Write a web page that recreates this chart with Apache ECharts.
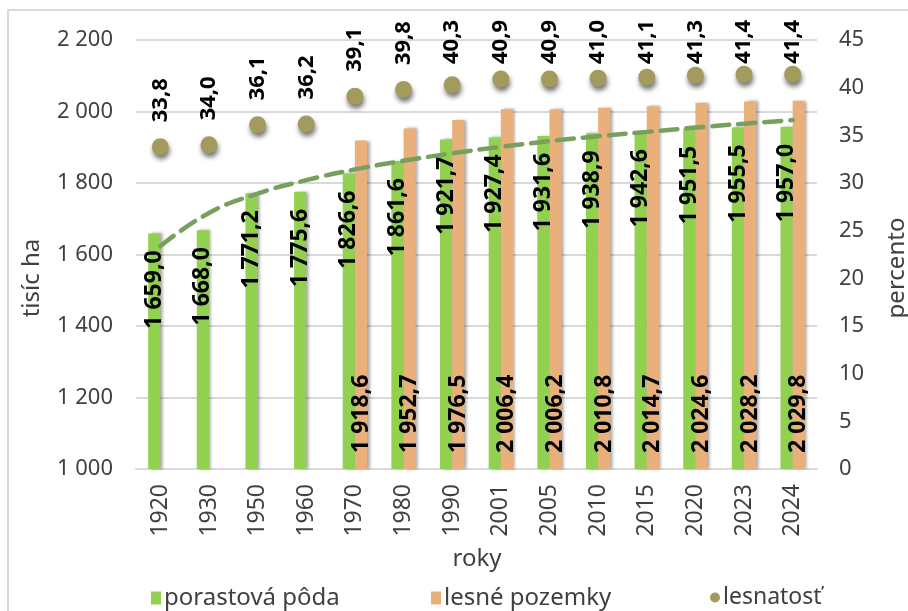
<!DOCTYPE html>
<html>
<head>
<meta charset="utf-8">
<script src="https://cdn.jsdelivr.net/npm/echarts@6/dist/echarts.min.js"></script>
<style>
  html, body { margin: 0; padding: 0; background: #fff; }
  #chart { width: 908px; height: 611px; }
</style>
</head>
<body>
<div id="chart"></div>
<script>
// Roky sledovania
const years = ['1920', '1930', '1950', '1960', '1970', '1980', '1990', '2001', '2005', '2010', '2015', '2020', '2023', '2024'];

// Porastová pôda (tis. ha)
const porastovaPoda = [1659.0, 1668.0, 1771.2, 1775.6, 1826.6, 1861.6, 1921.7, 1927.4, 1931.6, 1938.9, 1942.6, 1951.5, 1955.5, 1957.0];

// Lesné pozemky (tis. ha) – evidované od roku 1970
const lesnePozemky = [null, null, null, null, 1918.6, 1952.7, 1976.5, 2006.4, 2006.2, 2010.8, 2014.7, 2024.6, 2028.2, 2029.8];

// Lesnatosť (%)
const lesnatost = [33.8, 34.0, 36.1, 36.2, 39.1, 39.8, 40.3, 40.9, 40.9, 41.0, 41.1, 41.3, 41.4, 41.4];

// Trend porastovej pôdy (tis. ha)
const trendPoda = [1623, 1716, 1770, 1808, 1838, 1862, 1883, 1901, 1917, 1931, 1943, 1955, 1966, 1976];

const FONT = '"Noto Sans", "DejaVu Sans", sans-serif';
const DOT_SIZE = 17;
const DOT_LABEL_GAP = 16;
const DOT_LABEL_FONT = 22;
const LABEL_TOP_LIMIT = 20;

function spaced(intStr) {
  return intStr.replace(/\B(?=(\d{3})+(?!\d))/g, ' ');
}
function fmtDec(v) {
  const parts = Number(v).toFixed(1).split('.');
  return spaced(parts[0]) + ',' + parts[1];
}
function fmtPct(v) {
  return Number(v).toFixed(1).replace('.', ',');
}

const chart = echarts.init(document.getElementById('chart'), null, { renderer: 'canvas' });

const barLabelBase = {
  show: true,
  rotate: 90,
  verticalAlign: 'middle',
  fontFamily: FONT,
  fontSize: 23,
  fontWeight: 'bold',
  color: '#000',
  formatter: p => fmtDec(p.value)
};

const option = {
  backgroundColor: '#fff',
  animation: false,
  grid: { left: 136, right: 91, top: 40, bottom: 142, containLabel: false },
  graphic: [
    {
      type: 'rect', silent: true, z: -10,
      shape: { x: 8, y: 10, width: 1000, height: 1000 },
      style: { fill: 'none', stroke: '#d9d9d9', lineWidth: 2 }
    },
    {
      type: 'text', x: 32, y: 278, rotation: Math.PI / 2,
      style: { text: 'tisíc ha', font: '24px ' + FONT, fill: '#404040', align: 'center', verticalAlign: 'middle' }
    },
    {
      type: 'text', x: 897, y: 268, rotation: Math.PI / 2,
      style: { text: 'percento', font: '24px ' + FONT, fill: '#404040', align: 'center', verticalAlign: 'middle' }
    },
    {
      type: 'text', x: 477, y: 559,
      style: { text: 'roky', font: '24px ' + FONT, fill: '#404040', align: 'center', verticalAlign: 'middle' }
    }
  ],
  legend: [
    {
      data: [{ name: 'porastová pôda', icon: 'rect' }],
      left: 146, top: 581, itemWidth: 10, itemHeight: 13,
      textStyle: { fontFamily: FONT, fontSize: 24, color: '#404040', padding: [0, 0, 0, -2] }
    },
    {
      data: [{ name: 'lesné pozemky', icon: 'rect' }],
      left: 426, top: 581, itemWidth: 10, itemHeight: 13,
      textStyle: { fontFamily: FONT, fontSize: 24, color: '#404040', padding: [0, 0, 0, -2] }
    },
    {
      data: [{ name: 'lesnatosť', icon: 'circle' }],
      left: 705, top: 581, itemWidth: 10, itemHeight: 10,
      textStyle: { fontFamily: FONT, fontSize: 23, color: '#404040', padding: [0, 0, 0, -2] }
    }
  ],
  xAxis: {
    type: 'category',
    data: years,
    axisLine: { lineStyle: { color: '#d9d9d9', width: 2 } },
    axisTick: { show: false },
    axisLabel: {
      rotate: 90,
      margin: 15,
      fontFamily: FONT,
      fontSize: 23,
      color: '#404040'
    }
  },
  yAxis: [
    {
      type: 'value',
      min: 1000, max: 2200, interval: 200,
      axisLine: { show: false },
      axisTick: { show: false },
      splitLine: { lineStyle: { color: '#d9d9d9', width: 2 } },
      axisLabel: {
        margin: 23,
        fontFamily: FONT,
        fontSize: 22,
        color: '#404040',
        formatter: v => spaced(String(v))
      }
    },
    {
      type: 'value',
      min: 0, max: 45, interval: 5,
      axisLine: { show: false },
      axisTick: { show: false },
      splitLine: { show: false },
      axisLabel: {
        margin: 22,
        fontFamily: FONT,
        fontSize: 22,
        color: '#404040'
      }
    }
  ],
  series: [
    {
      name: 'porastová pôda',
      type: 'bar',
      yAxisIndex: 0,
      data: porastovaPoda,
      barWidth: '25%',
      barGap: '0%',
      itemStyle: {
        color: '#92D050',
        shadowColor: 'rgba(0,0,0,0.35)',
        shadowBlur: 3,
        shadowOffsetX: 2.5
      },
      label: Object.assign({}, barLabelBase, { position: 'insideTop', align: 'right', distance: 17 }),
      z: 2
    },
    {
      name: 'lesné pozemky',
      type: 'bar',
      yAxisIndex: 0,
      data: lesnePozemky,
      barWidth: '25%',
      itemStyle: {
        color: '#E9B07C',
        shadowColor: 'rgba(0,0,0,0.35)',
        shadowBlur: 3,
        shadowOffsetX: 2.5
      },
      label: Object.assign({}, barLabelBase, { position: 'insideBottom', align: 'left', distance: 16 }),
      z: 2
    },
    {
      name: 'trend',
      type: 'line',
      yAxisIndex: 0,
      data: trendPoda,
      smooth: true,
      symbol: 'none',
      lineStyle: { color: '#76A05C', width: 4.5, type: [17, 9], cap: 'round' },
      z: 4
    },
    {
      id: 'dots',
      name: 'lesnatosť',
      type: 'scatter',
      yAxisIndex: 1,
      data: lesnatost,
      symbolSize: DOT_SIZE,
      itemStyle: {
        color: '#A29B5D',
        opacity: 1,
        shadowColor: 'rgba(0,0,0,0.55)',
        shadowBlur: 5,
        shadowOffsetX: 1,
        shadowOffsetY: 4
      },
      label: {
        show: true,
        position: 'top',
        rotate: 90,
        align: 'left',
        verticalAlign: 'middle',
        distance: DOT_LABEL_GAP,
        fontFamily: FONT,
        fontSize: DOT_LABEL_FONT,
        fontWeight: 'bold',
        color: '#000',
        formatter: p => fmtPct(p.value)
      },
      z: 5
    }
  ]
};

chart.setOption(option);

// Keep the percentage labels inside the chart: labels that would run past
// the top edge are pulled closer to their dot.
const measureCtx = document.createElement('canvas').getContext('2d');
measureCtx.font = 'bold ' + DOT_LABEL_FONT + 'px ' + FONT;
const dotItems = lesnatost.map((v, i) => {
  const py = chart.convertToPixel({ xAxisIndex: 0, yAxisIndex: 1 }, [i, v])[1];
  const len = measureCtx.measureText(fmtPct(v)).width;
  const anchorMin = LABEL_TOP_LIMIT + len;
  let anchor = py - DOT_SIZE / 2 - DOT_LABEL_GAP;
  if (anchor < anchorMin) anchor = anchorMin;
  const dist = Math.max(2, py - DOT_SIZE / 2 - anchor);
  return { value: v, label: { distance: dist } };
});
chart.setOption({ series: [{ id: 'dots', data: dotItems }] });
</script>
</body>
</html>
